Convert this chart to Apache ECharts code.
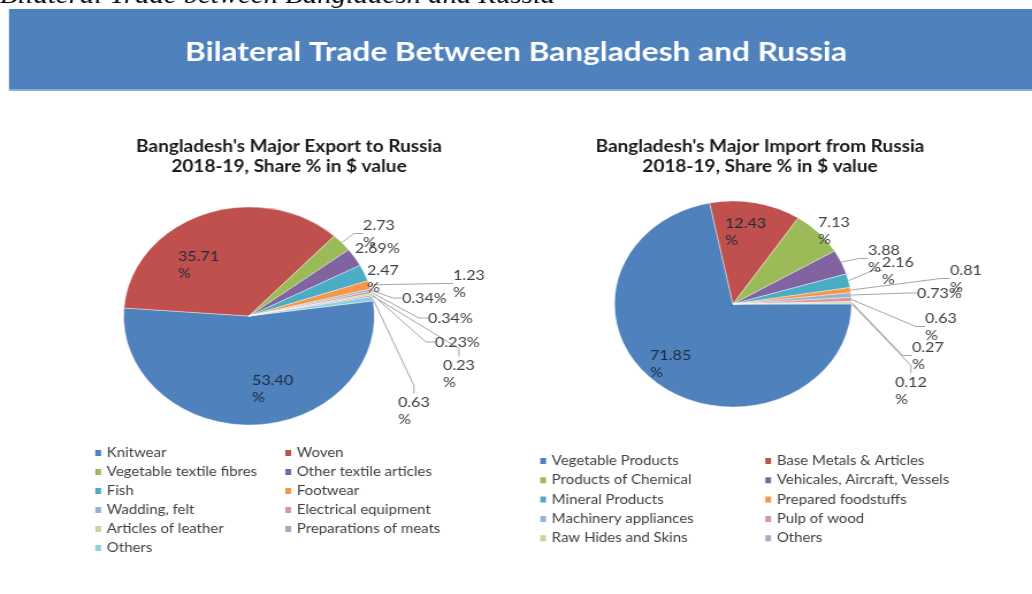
<!DOCTYPE html>
<html>
<head>
<meta charset="utf-8">
<script src="https://cdn.jsdelivr.net/npm/echarts@6/dist/echarts.min.js"></script>
<style>
  html, body { margin: 0; padding: 0; background: #ffffff; overflow: hidden; }
  /* the chart is drawn narrower and widened by the page, giving oval pies and wide lettering */
  #chart { width: 897px; height: 594px; transform: scaleX(1.1505); transform-origin: 0 0; }
</style>
</head>
<body>
<div id="chart"></div>
<script>
// Bangladesh's major exports to Russia, 2018-19 (share % of $ value)
const exportNames = [
  'Knitwear', 'Woven', 'Vegetable textile fibres', 'Other textile articles',
  'Fish', 'Footwear', 'Wadding, felt', 'Electrical equipment',
  'Articles of leather', 'Preparations of meats', 'Others'
];
const exportShares = [53.40, 35.71, 2.73, 2.69, 2.47, 1.23, 0.34, 0.34, 0.23, 0.23, 0.63];

// Bangladesh's major imports from Russia, 2018-19 (share % of $ value)
const importNames = [
  'Vegetable Products', 'Base Metals & Articles', 'Products of Chemical',
  'Vehicales, Aircraft, Vessels', 'Mineral Products', 'Prepared foodstuffs',
  'Machinery appliances', 'Pulp of wood', 'Raw Hides and Skins', 'Others'
];
const importShares = [71.85, 12.43, 7.13, 3.88, 2.16, 0.81, 0.73, 0.63, 0.27, 0.12];

// slice palette
const exportColors = ['#4F81BD', '#C0504D', '#9BBB59', '#8064A2', '#4BACC6', '#F79646',
                      '#95B3D7', '#D99694', '#C3D69B', '#B3A2C7', '#93CDDD'];
const importColors = ['#4F81BD', '#C0504D', '#9BBB59', '#8064A2', '#4BACC6', '#F79646',
                      '#95B3D7', '#D99694', '#C3D69B', '#B3A2C7'];

// horizontal widening applied by the page; layout below is given in page pixels
const SX = 1032 / 897;
const px = x => x / SX;

// label placement: [left x, first-line middle y], inside flag, percent sign on its own line
const exportLabelPos = [[252, 380], [178, 256], [363, 225], [355, 248], [367, 270], [453, 275],
                        [402, 298], [428, 318], [435, 342], [443, 365], [398, 402]];
const exportInside = [true, true, false, false, false, false, false, false, false, false, false];
const exportWrap = [true, true, true, false, true, true, false, false, false, true, true];
const exportLine = [false, false, true, false, false, true, true, true, true, true, true];

const importLabelPos = [[650, 355], [725, 223], [818, 222], [868, 250], [882, 262], [950, 270],
                        [917, 293], [925, 318], [912, 347], [895, 382]];
const importInside = [true, true, false, false, false, false, false, false, false, false];
const importWrap = [true, true, true, true, true, true, false, true, true, true];
const importLine = [false, false, false, true, true, true, true, true, true, true];

const SANS = 'Lato, "Open Sans", sans-serif';

function buildData(names, values, colors, inside, line) {
  return names.map((n, i) => ({
    name: n,
    value: values[i],
    itemStyle: { color: colors[i] },
    label: inside[i] ? { position: 'inside', color: '#1F2A3C' } : { position: 'outside' },
    labelLine: { show: line[i] }
  }));
}

function pieSeries(names, values, colors, inside, line, wrap, pos, center, radius, startAngle) {
  return {
    type: 'pie',
    center: [px(center[0]), center[1]],
    radius: radius,
    startAngle: startAngle,
    clockwise: true,
    avoidLabelOverlap: false,
    animation: false,
    silent: true,
    itemStyle: { borderColor: '#ffffff', borderWidth: 0.4 },
    label: {
      fontFamily: SANS,
      fontSize: 14,
      lineHeight: 17,
      color: '#404040',
      formatter: p => p.value.toFixed(2) + (wrap[p.dataIndex] ? '\n%' : '%')
    },
    labelLine: {
      length: 8,
      length2: 8,
      smooth: false,
      lineStyle: { color: '#A6A6A6', width: 1 }
    },
    labelLayout: p => {
      const xy = pos[p.dataIndex];
      return { x: px(xy[0]), y: xy[1] - 8.5, align: 'left', verticalAlign: 'top' };
    },
    data: buildData(names, values, colors, inside, line)
  };
}

function legendBlock(names, colors, left, top, gap) {
  return {
    orient: 'vertical',
    left: px(left),
    top: top,
    padding: 0,
    itemWidth: 7,
    itemHeight: 8,
    itemGap: gap,
    icon: 'rect',
    selectedMode: false,
    textStyle: { fontFamily: SANS, fontSize: 13, color: '#404040', lineHeight: 16, padding: [0, 0, 0, -1] },
    data: names.map((n, i) => ({ name: n, itemStyle: { color: colors[i] } }))
  };
}

const pick = (arr, idx) => idx.map(i => arr[i]);
const expCol1 = [0, 2, 4, 6, 8, 10];
const expCol2 = [1, 3, 5, 7, 9];
const impCol1 = [0, 2, 4, 6, 8];
const impCol2 = [1, 3, 5, 7, 9];

const chart = echarts.init(document.getElementById('chart'), null, { renderer: 'canvas' });
chart.setOption({
  backgroundColor: '#ffffff',
  animation: false,
  graphic: [
    {
      type: 'text', left: 0, top: -16, silent: true,
      style: { text: 'Bilateral Trade between Bangladesh and Russia', font: 'italic 25px "Liberation Serif", serif', fill: '#000000' }
    },
    {
      type: 'rect', silent: true,
      shape: { x: px(9), y: 9, width: px(1023), height: 81 },
      style: { fill: '#4F81BD' }
    },
    {
      type: 'rect', silent: true,
      shape: { x: px(9), y: 89, width: px(1023), height: 2 },
      style: { fill: '#8EACD4' }
    },
    {
      type: 'text', x: px(516), y: 52, silent: true,
      style: {
        text: 'Bilateral Trade Between Bangladesh and Russia',
        font: 'bold 27.5px ' + SANS, fill: '#ffffff', align: 'center', verticalAlign: 'middle'
      }
    },
    {
      type: 'text', x: px(289), y: 157, silent: true,
      style: {
        text: "Bangladesh's Major Export to Russia\n2018-19, Share % in $ value",
        font: 'bold 16.5px ' + SANS, lineHeight: 20, fill: '#1a1a1a', align: 'center', verticalAlign: 'middle'
      }
    },
    {
      type: 'text', x: px(760), y: 157, silent: true,
      style: {
        text: "Bangladesh's Major Import from Russia\n2018-19, Share % in $ value",
        font: 'bold 16.5px ' + SANS, lineHeight: 20, fill: '#1a1a1a', align: 'center', verticalAlign: 'middle'
      }
    }
  ],
  legend: [
    legendBlock(pick(exportNames, expCol1), pick(exportColors, expCol1), 93, 445, 3),
    legendBlock(pick(exportNames, expCol2), pick(exportColors, expCol2), 283, 445, 3),
    legendBlock(pick(importNames, impCol1), pick(importColors, impCol1), 538, 453, 3.3),
    legendBlock(pick(importNames, impCol2), pick(importColors, impCol2), 763, 453, 3.3)
  ],
  series: [
    pieSeries(exportNames, exportShares, exportColors, exportInside, exportLine, exportWrap,
              exportLabelPos, [249, 316], 109, 8),
    pieSeries(importNames, importShares, importColors, importInside, importLine, importWrap,
              importLabelPos, [733, 304], 103, 0)
  ]
});
</script>
</body>
</html>
